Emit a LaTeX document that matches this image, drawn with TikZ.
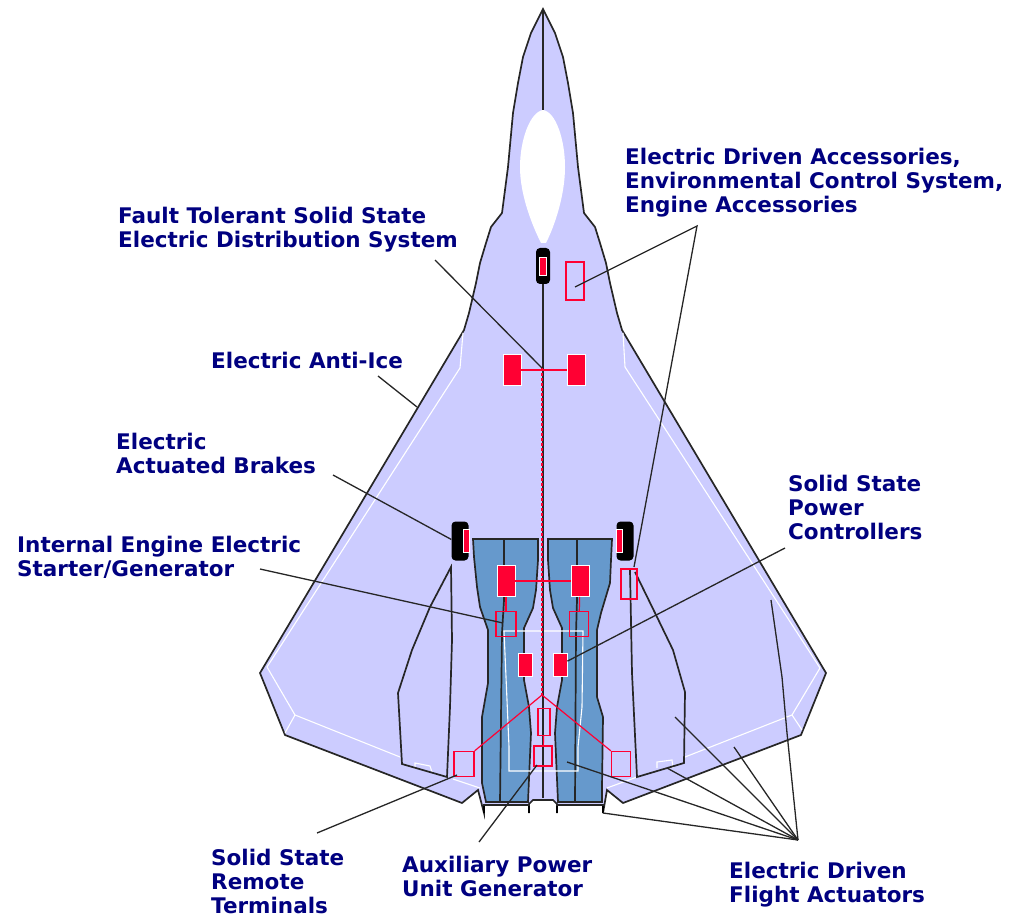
\documentclass[tikz,border=0pt]{standalone}
\usepackage{fontspec}
\setmainfont{DejaVu Sans}
\usepackage{xcolor}
\usetikzlibrary{positioning,calc}
\definecolor{jetbody}{RGB}{204,204,255}
\definecolor{jetengine}{RGB}{102,153,204}
\definecolor{jetred}{RGB}{255,0,51}
\definecolor{jetnavy}{RGB}{0,0,128}
\begin{document}
\begin{tikzpicture}[x=1pt,y=-1pt,
  lbl/.style={font=\bfseries\fontsize{21.5}{24}\selectfont,text=jetnavy,align=left,anchor=north west,inner sep=0pt},
  edge/.style={draw=black!85,line width=1.7pt},
  leader/.style={draw=black!85,line width=1.3pt},
  wht/.style={draw=white,line width=1.1pt},
  unit/.style={rectangle,draw=white,line width=.8pt,fill=jetred,inner sep=0pt},
  rbox/.style={rectangle,draw=jetred,line width=1.3pt,fill=none,inner sep=0pt},
  redln/.style={draw=jetred,line width=1.2pt},
  tyre/.style={rectangle,rounded corners=4pt,fill=black,inner sep=0pt}
]
\useasboundingbox (0,0) rectangle (1020,917);
% Airframe
\filldraw[edge,fill=jetbody] (543,9) -- (555,33) -- (563,57) -- (568,83) -- (573,113) -- (578,167) -- (584,213) -- (595,227)
  -- (600,243) -- (606,263) -- (610,283) -- (617,313) -- (622,330) -- (826,673) -- (801,735) -- (623,803) -- (607,790) -- (603,813)
  -- (603,805) -- (557,805) -- (557,813) -- (557,804) -- (553,800) -- (533,800) -- (529,804) -- (529,813) -- (529,805) -- (484,805) -- (484,813)
  -- (478,790) -- (462,803) -- (285,735) -- (260,673) -- (464,330) -- (469,313) -- (476,283) -- (480,263) -- (486,243) -- (491,227)
  -- (502,213) -- (508,167) -- (513,113) -- (518,83) -- (523,57) -- (531,33) -- cycle;
\fill[white] (543,110) .. controls (530,112) and (520,140) .. (520,167) .. controls (520,195) and (532,225) .. (541,243)
  -- (546,243) .. controls (555,225) and (565,195) .. (565,167) .. controls (565,140) and (556,112) .. (543,110);
% Engines
\filldraw[edge,fill=jetengine] (473,539) -- (538,539) -- (538,560) -- (536,590) -- (533,608) -- (524,628) -- (524,680)
  -- (529,707) -- (531,733) -- (528,802) -- (486,802) -- (482,783) -- (482,717) -- (488,683) -- (488,630) -- (480,607)
  -- (477,587) -- (474,557) -- cycle;
\filldraw[edge,fill=jetengine] (548,539) -- (612,539) -- (611,560) -- (610,583) -- (601,613) -- (597,630) -- (597,697)
  -- (603,717) -- (602,787) -- (602,802) -- (558,802) -- (555,733) -- (557,707) -- (562,680) -- (562,628) -- (553,608)
  -- (550,590) -- (548,560) -- cycle;
\draw[edge] (504,539) -- (504,600) -- (502,633) -- (500,802);
\draw[edge] (577,539) -- (577,600) -- (576,633) -- (575,802);
% Nozzle stubs
\foreach \stubx in {484,529,557,603}
  \draw[line width=2.6pt] (\stubx,806) -- (\stubx,813);
% White panel lines
\draw[wht] (504,631) -- (583,631) -- (582,707) -- (578,747) -- (578,771) -- (509,771) -- (509,747) -- (507,700) -- cycle;
\draw[wht] (623,333) -- (625,367) -- (820,668) -- (792,715) -- (685,757);
\draw[wht] (792,715) -- (802,730);
\draw[wht] (637,777) -- (607,788);
\draw[wht] (657,768) -- (657,762) -- (672,760) -- (673,768);
\draw[wht] (463,333) -- (460,368) -- (267,667) -- (295,715) -- (400,757);
\draw[wht] (295,715) -- (285,733);
\draw[wht] (453,779) -- (480,788);
\draw[wht] (415,768) -- (415,763) -- (430,766) -- (432,772);
% Flap outlines
\draw[edge] (451,567) -- (430,607) -- (412,650) -- (398,693) -- (402,764) -- (447,777) -- (450,707) -- (452,640) -- cycle;
\draw[edge] (635,572) -- (657,617) -- (673,650) -- (685,692) -- (684,763) -- (637,777) -- (632,673) -- (630,570);
% Centre line
\draw[edge] (543,9) -- (543,110);
\draw[edge] (543,284) -- (543,798);
% Wheels
\node[tyre,minimum width=14pt,minimum height=36pt] (noseT) at (543,266) {};
\node[tyre,minimum width=17pt,minimum height=39pt] (mainTl) at (460,541) {};
\node[tyre,minimum width=17pt,minimum height=39pt] (mainTr) at (625,541) {};
\node[unit,minimum width=7pt,minimum height=18pt] (noseU) at (543,266) {};
\node[unit,minimum width=6pt,minimum height=23pt] (mainUl) at (466,541) {};
\node[unit,minimum width=6pt,minimum height=23pt] (mainUr) at (619,541) {};
% Red units
\node[unit,minimum width=18pt,minimum height=31pt] (frontL) at (512,370) {};
\node[unit,minimum width=18pt,minimum height=31pt] (frontR) at (576,370) {};
\node[unit,minimum width=18pt,minimum height=31pt] (engL) at (506,581) {};
\node[unit,minimum width=18pt,minimum height=31pt] (engR) at (580,581) {};
\node[unit,minimum width=14pt,minimum height=23pt] (ctrlL) at (525,665) {};
\node[unit,minimum width=14pt,minimum height=23pt] (ctrlR) at (560,665) {};
\node[rbox,minimum width=18pt,minimum height=38pt] (accessB) at (575,281) {};
\node[rbox,minimum width=20pt,minimum height=25pt] (genL) at (506,624) {};
\node[rbox,minimum width=19pt,minimum height=25pt] (genR) at (579,624) {};
\node[rbox,minimum width=16pt,minimum height=30pt] (accessR) at (629,584) {};
\node[rbox,minimum width=12pt,minimum height=27pt] (apuB) at (544,722) {};
\node[rbox,minimum width=18pt,minimum height=20pt] (apuG) at (543,756) {};
\node[rbox,minimum width=20pt,minimum height=25pt] (termL) at (464,764) {};
\node[rbox,minimum width=19pt,minimum height=25pt] (termR) at (621,764) {};
% Red wiring
\coordinate (hubTop) at (542,368);
\coordinate (hubLow) at (542,695);
\draw[redln] (frontL) -- (frontR);
\draw[redln] (engL) -- (engR);
\draw[redln] (engL) -- (genL);
\draw[redln] (engR) -- (genR);
\draw[redln,densely dashed] (hubTop) -- (hubLow);
\draw[redln] (hubLow) -- (termL.north east);
\draw[redln] (hubLow) -- (termR.north west);
\draw[redln] (apuB) -- (apuG);
% Labels
\node[lbl] (lblAccess) at (625,148) {Electric Driven Accessories,\\Environmental Control System,\\Engine Accessories};
\node[lbl] (lblFault) at (118,207) {Fault Tolerant Solid State\\Electric Distribution System};
\node[lbl] (lblIce) at (211,352) {Electric Anti-Ice};
\node[lbl] (lblBrakes) at (116,433) {Electric\\Actuated Brakes};
\node[lbl] (lblStarter) at (17,536) {Internal Engine Electric\\Starter/Generator};
\node[lbl] (lblPower) at (788,475) {Solid State\\Power\\Controllers};
\node[lbl] (lblRemote) at (211,849) {Solid State\\Remote\\Terminals};
\node[lbl] (lblApu) at (402,856) {Auxiliary Power\\Unit Generator};
\node[lbl] (lblFlight) at (729,862) {Electric Driven\\Flight Actuators};
% Leaders
\coordinate (fanAccess) at (697,226);
\coordinate (fanFlight) at (798,840);
\draw[leader] (575,287) -- (fanAccess) -- (634,567);
\draw[leader] (435,260) -- (hubTop);
\draw[leader] (378,376) -- (417,407);
\draw[leader] (333,475) -- (mainTl.170);
\draw[leader] (260,569) -- (503,623);
\draw[leader] (785,548) -- (ctrlR);
\draw[leader] (317,833) -- (457,775);
\draw[leader] (479,842) -- (537,765);
\draw[leader] (771,600) -- (782,677) -- (787,733) -- (fanFlight);
\draw[leader] (675,717) -- (fanFlight);
\draw[leader] (734,747) -- (fanFlight);
\draw[leader] (667,768) -- (fanFlight);
\draw[leader] (567,762) -- (fanFlight);
\draw[leader] (603,813) -- (fanFlight);
\end{tikzpicture}
\end{document}
